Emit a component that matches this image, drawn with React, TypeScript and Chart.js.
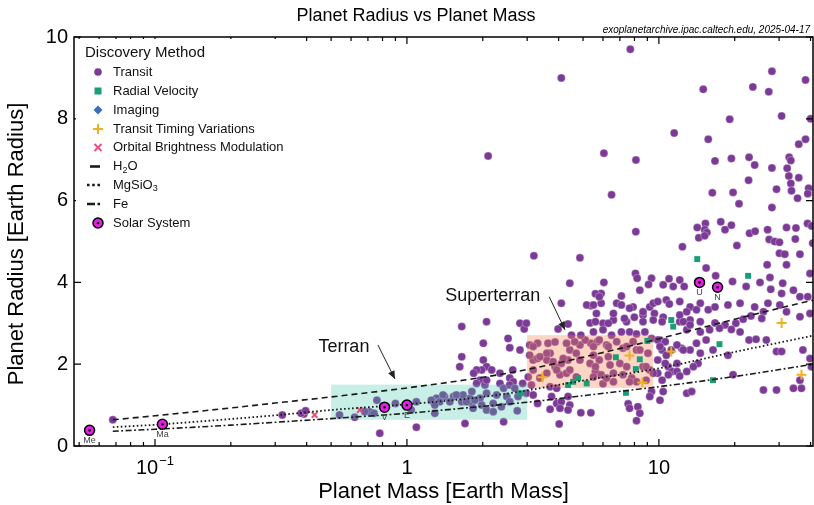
import React, { useEffect, useRef } from "react";
import { Chart, registerables } from "chart.js";

Chart.register(...registerables);

const FONT = '"Liberation Sans", Arial, Helvetica, sans-serif';

// ---------- axis settings ----------
const xMin = 0.0477;
const xMax = 40.9;
const yMin = 0;
const yMax = 10;
const yTickValues = [0, 2, 4, 6, 8, 10];
const xMajorTicks = [0.1, 1, 10];
const xTickLabels: [string, string][] = [["10", "\u22121"], ["1", ""], ["10", ""]];
const xMinorTicks = [0.05, 0.06, 0.07, 0.08, 0.09, 0.2, 0.3, 0.4, 0.5, 0.6, 0.7, 0.8, 0.9, 2, 3, 4, 5, 6, 7, 8, 9, 20, 30, 40];

// ---------- data: [mass (Earth masses), radius (Earth radii)] ----------
const transitPoints: [number, number][] = [
  [7.7, 9.7], [4.1, 9.0], [28.1, 9.16], [38.2, 8.95], [23.6, 8.78], [27.3, 8.66], [15.0, 8.72], [19.1, 7.99],
  [30.7, 8.07], [40.0, 8.0], [11.5, 7.65], [15.7, 7.5], [38.2, 7.5], [35.9, 7.38], [6.05, 7.16], [2.1, 7.09],
  [6.49, 6.14], [8.11, 6.99], [16.7, 6.97], [19.4, 7.03], [22.8, 7.06], [24.0, 6.87], [28.1, 6.8], [32.3, 6.79],
  [32.9, 7.06], [33.4, 6.98], [32.8, 6.6], [35.9, 6.56], [33.4, 6.42], [22.7, 6.5], [29.3, 6.28], [33.6, 6.24],
  [39.3, 6.3], [39.0, 6.17], [35.5, 6.06], [16.3, 6.19], [19.7, 6.2], [20.8, 5.92], [28.1, 5.83], [8.1, 5.24],
  [15.3, 5.44], [17.6, 5.48], [15.2, 5.29], [15.5, 5.22], [14.2, 5.34], [14.4, 5.09], [15.2, 5.14], [18.3, 5.29],
  [19.4, 5.4], [22.9, 5.2], [24.1, 5.25], [27.0, 5.29], [27.4, 5.05], [28.8, 5.0], [30.1, 4.98], [32.1, 5.34],
  [35.0, 5.33], [34.8, 5.06], [38.9, 5.44], [40.4, 5.38], [12.4, 4.87], [20.4, 4.9], [40.8, 4.96], [3.19, 4.65],
  [4.86, 4.6],
  [30.1, 4.71], [31.6, 4.69], [36.3, 4.69], [26.9, 4.43], [32.1, 4.43], [15.4, 4.35], [16.8, 4.16], [8.07, 4.22],
  [8.2, 4.1], [9.35, 4.1], [10.97, 4.09], [12.1, 4.06], [39.8, 4.22], [6.05, 4.0], [7.1, 3.67], [8.4, 3.81],
  [9.1, 3.95], [10.4, 3.94], [11.4, 3.9], [12.6, 3.9], [19.6, 4.02], [22.2, 3.9], [25.2, 4.0], [27.6, 4.12],
  [31.0, 3.98], [27.8, 3.83], [30.7, 3.73], [34.2, 3.81], [36.3, 3.65], [39.0, 3.65], [5.9, 3.73], [6.8, 3.49],
  [7.1, 3.45], [7.9, 3.4], [9.2, 3.4], [9.5, 3.49], [9.9, 3.53], [10.7, 3.57], [11.0, 3.47], [12.1, 3.53],
  [13.3, 3.4], [12.9, 3.28], [14.6, 3.49], [15.7, 3.33], [16.7, 3.4], [18.8, 3.45], [21.0, 3.49], [24.0, 3.4],
  [26.0, 3.28], [27.1, 3.49], [30.2, 3.45], [32.1, 3.28], [36.3, 3.16], [39.8, 3.24], [25.6, 3.12], [23.2, 3.18],
  [21.6, 3.1], [20.2, 3.0], [18.3, 2.96], [16.7, 3.01], [14.6, 3.04], [13.3, 3.08], [12.1, 3.04], [10.4, 3.15],
  [9.6, 3.24], [8.65, 3.2], [7.99, 3.15], [7.44, 3.04], [6.6, 3.08], [6.0, 3.0], [12.9, 2.84], [14.6, 2.79],
  [15.9, 2.84], [17.4, 2.88], [19.4, 2.85], [21.0, 2.79], [22.8, 2.59], [24.3, 2.61], [26.7, 2.59], [29.3, 2.31],
  [30.7, 2.31], [37.3, 2.35], [39.8, 2.14], [15.4, 2.59], [14.1, 2.51], [13.3, 2.35], [12.3, 2.39], [14.6, 2.27],
  [16.4, 2.35], [18.8, 2.22], [14.3, 2.02], [13.7, 1.94], [12.9, 1.82], [11.2, 2.35], [10.1, 2.59], [10.3, 2.35],
  [10.7, 2.22], [11.8, 2.02], [10.9, 1.94], [11.3, 1.82], [10.9, 1.74], [9.9, 1.78], [10.3, 1.61], [11.8, 1.82],
  [12.1, 1.71], [19.7, 1.74], [26.0, 1.37], [29.3, 1.37], [36.3, 1.61], [36.8, 1.41], [40.3, 1.94], [9.35, 1.33],
  [9.2, 1.21], [12.9, 1.29], [13.5, 1.33], [34.2, 1.41],
  [5.6, 3.72], [5.37, 3.43], [5.9, 3.49], [5.65, 3.24], [7.65, 3.37], [8.65, 3.28], [7.3, 3.12], [8.65, 3.04],
  [9.5, 3.08], [10.3, 3.04], [12.1, 3.2], [12.5, 3.04], [13.3, 2.96], [14.1, 3.33], [5.5, 2.79], [6.0, 2.84],
  [6.49, 2.71], [7.1, 2.79], [7.65, 2.79], [8.15, 2.74], [8.8, 2.79], [9.35, 2.63], [9.9, 2.59], [10.6, 2.55],
  [10.1, 2.43], [11.8, 2.47], [12.5, 2.35], [5.37, 2.51], [5.7, 2.55], [6.2, 2.47], [7.2, 2.39], [8.15, 2.35],
  [9.05, 2.27], [9.9, 2.1], [10.6, 2.02], [5.5, 2.22], [5.8, 2.1], [6.3, 2.18], [6.4, 1.98], [7.0, 2.02],
  [7.45, 1.94], [8.65, 1.94], [9.2, 1.86], [5.6, 1.82], [5.9, 1.74], [6.6, 1.78], [7.2, 1.74], [7.8, 1.66],
  [8.15, 1.57], [6.0, 1.52], [6.6, 1.57], [10.1, 1.12], [7.55, 1.03], [7.65, 0.92], [8.25, 0.96], [8.4, 0.8],
  [8.15, 0.62], [5.37, 0.81], [10.4, 1.33],
  [4.1, 3.49], [5.17, 3.45], [5.5, 3.45], [2.07, 3.04], [2.81, 3.0], [2.92, 2.86], [3.98, 2.86], [4.36, 2.98],
  [5.33, 3.01], [2.52, 2.63], [2.01, 2.51], [2.01, 2.1], [2.07, 1.94], [1.98, 1.86], [2.34, 1.78], [2.56, 1.66],
  [2.64, 1.57], [2.88, 1.53], [3.12, 1.49], [3.03, 1.69], [3.37, 1.66], [3.17, 2.1], [3.3, 2.14], [3.07, 2.47],
  [3.3, 2.51], [3.63, 2.51], [3.87, 2.54], [3.7, 2.27], [3.59, 2.1], [3.87, 1.94], [4.05, 1.74], [4.3, 1.78],
  [4.1, 2.02], [4.36, 2.1], [4.43, 2.35], [4.7, 2.27], [4.86, 2.47], [5.1, 2.59], [4.63, 2.55], [4.5, 2.71],
  [4.9, 2.71], [5.33, 2.02], [5.6, 1.94], [2.98, 1.29], [3.17, 1.25], [3.3, 1.04], [3.75, 1.21], [3.93, 1.04],
  [4.1, 1.08], [4.36, 1.21], [4.43, 1.0], [4.05, 0.92], [3.7, 0.9], [4.36, 0.88], [4.9, 0.81], [4.02, 0.54],
  [3.7, 1.45], [3.93, 1.41], [2.63, 1.86],
  [4.3, 2.51], [5.5, 2.43], [5.8, 2.59], [6.3, 2.43], [6.8, 2.55], [7.45, 2.43], [7.9, 2.55], [3.37, 2.18],
  [3.8, 2.06], [4.17, 2.14], [4.86, 2.1], [8.9, 1.94], [3.17, 1.86], [3.59, 1.78], [3.93, 1.86], [5.5, 1.69],
  [6.2, 1.66], [7.65, 1.57], [8.9, 1.61], [3.07, 2.22], [3.17, 2.43], [3.59, 2.27], [4.43, 1.86], [4.7, 1.69],
  [9.5, 1.78], [8.4, 2.35], [2.98, 3.0], [4.43, 3.98], [5.8, 3.65], [6.6, 3.24], [5.6, 3.04], [6.3, 3.0],
  [1.65, 2.92], [1.62, 1.94], [1.89, 1.86], [2.17, 1.86], [1.95, 1.61], [2.04, 1.49], [2.34, 1.53], [2.42, 1.41],
  [2.56, 1.49], [2.68, 1.41], [2.07, 1.29], [2.27, 1.25], [2.49, 1.21], [2.76, 1.21], [1.95, 1.17], [1.78, 1.17],
  [1.65, 1.21], [1.53, 1.21], [1.41, 1.21], [1.31, 1.17], [1.35, 1.08], [1.27, 1.08], [1.48, 1.08], [1.65, 1.08],
  [1.81, 1.04], [1.98, 1.0], [2.2, 1.04], [2.37, 0.96], [2.56, 1.08], [2.07, 0.88], [2.2, 0.84], [2.74, 0.86],
  [1.7, 0.55], [0.78, 0.31], [2.42, 0.59], [2.56, 2.4], [2.81, 2.35], [1.65, 2.18],
  [1.84, 1.78], [2.07, 1.61], [1.89, 1.53], [1.81, 1.33], [1.67, 1.25], [1.57, 1.25], [1.39, 1.25], [1.25, 1.12],
  [1.29, 1.0], [1.72, 1.08], [1.86, 1.12], [1.83, 0.92], [1.29, 0.8], [1.09, 0.46], [0.9, 1.04], [0.76, 1.12],
  [0.71, 0.84], [0.68, 0.84], [0.74, 0.8], [0.62, 0.7], [0.54, 0.76], [1.09, 1.08], [1.04, 0.88], [0.39, 0.78],
  [0.32, 0.76], [0.068, 0.64], [0.38, 0.8], [0.396, 0.86],
];

const radialVelocityPoints: [number, number][] = [
  [14.2, 4.57], [22.6, 4.16], [11.2, 3.08], [11.4, 2.92], [9.0, 2.57], [6.75, 2.17], [8.4, 2.12], [8.1, 1.88],
  [7.4, 1.3], [17.4, 2.49], [16.4, 1.61], [2.81, 1.29], [4.36, 1.49], [4.57, 1.57], [4.78, 1.66], [5.17, 1.53],
];

const ttvPoints: [number, number][] = [
  [3.45, 1.68], [7.65, 2.21], [8.6, 1.55], [11.2, 2.31], [30.7, 3.01], [36.8, 1.74],
];

const obmPoints: [number, number][] = [[0.43, 0.76], [0.65, 0.88]];

const solarNames = ["Me", "Ma", "V", "E", "U", "N"];
const solarMass = [0.055, 0.107, 0.815, 1.0, 14.5, 17.1];
const solarRadius = [0.383, 0.532, 0.949, 1.0, 4.0, 3.88];

// composition curves
const curveMass = [0.068, 0.1, 0.2, 0.3, 0.5, 1, 2, 3, 5, 10, 20, 41];
const h2oRadius = [0.64, 0.74, 0.93, 1.05, 1.2, 1.42, 1.68, 1.87, 2.17, 2.62, 3.1, 3.57];
const mgsio3Radius = [0.46, 0.52, 0.66, 0.75, 0.88, 1.02, 1.2, 1.36, 1.6, 1.9, 2.3, 2.7];
const feRadius = [0.36, 0.41, 0.51, 0.58, 0.67, 0.8, 0.97, 1.07, 1.23, 1.45, 1.7, 2.0];

// regions [massMin, massMax, radiusMin, radiusMax]
const terranBox = [0.5, 3.0, 0.64, 1.5];
const superterranBox = [3.0, 9.5, 1.42, 2.71];

// annotations: text centre, arrow tail, arrow head (mass, radius)
const terranNote = { text: "Terran", at: [0.562, 2.42], tail: [0.767, 2.47], head: [0.896, 1.64] };
const superNote = { text: "Superterran", at: [2.19, 3.67], tail: [3.67, 3.65], head: [4.24, 2.84] };

const PURPLE = "#7b3a96";
const GREEN = "#1b9e77";
const BLUE = "#3a6fb8";
const ORANGE = "#f0b020";
const PINK = "#e8507e";
const MAGENTA = "#e61ee6";
const LINE = "#1a1a1a";

const toXY = (pts: [number, number][]) => pts.map(([m, r]) => ({ x: m, y: r }));
const zipXY = (xs: number[], ys: number[]) => xs.map((v, i) => ({ x: v, y: ys[i] }));

function drawMarker(ctx: CanvasRenderingContext2D, kind: string, x: number, y: number) {
  ctx.save();
  ctx.setLineDash([]);
  if (kind === "circle") {
    ctx.fillStyle = PURPLE;
    ctx.beginPath();
    ctx.arc(x, y, 3.8, 0, Math.PI * 2);
    ctx.fill();
  } else if (kind === "square") {
    ctx.fillStyle = GREEN;
    ctx.fillRect(x - 3.5, y - 3.5, 7, 7);
  } else if (kind === "diamond") {
    ctx.fillStyle = BLUE;
    ctx.beginPath();
    ctx.moveTo(x, y - 4.5);
    ctx.lineTo(x + 4.5, y);
    ctx.lineTo(x, y + 4.5);
    ctx.lineTo(x - 4.5, y);
    ctx.closePath();
    ctx.fill();
  } else if (kind === "plus") {
    ctx.strokeStyle = ORANGE;
    ctx.lineWidth = 2;
    ctx.beginPath();
    ctx.moveTo(x - 5, y);
    ctx.lineTo(x + 5, y);
    ctx.moveTo(x, y - 5);
    ctx.lineTo(x, y + 5);
    ctx.stroke();
  } else if (kind === "x") {
    ctx.strokeStyle = PINK;
    ctx.lineWidth = 2;
    ctx.beginPath();
    ctx.moveTo(x - 3.5, y - 3.5);
    ctx.lineTo(x + 3.5, y + 3.5);
    ctx.moveTo(x + 3.5, y - 3.5);
    ctx.lineTo(x - 3.5, y + 3.5);
    ctx.stroke();
  } else if (kind === "solar") {
    ctx.fillStyle = MAGENTA;
    ctx.strokeStyle = "#000";
    ctx.lineWidth = 1.5;
    ctx.beginPath();
    ctx.arc(x, y, 5, 0, Math.PI * 2);
    ctx.fill();
    ctx.stroke();
    ctx.fillStyle = "#000";
    ctx.beginPath();
    ctx.arc(x, y, 1.3, 0, Math.PI * 2);
    ctx.fill();
  }
  ctx.restore();
}

function drawArrow(ctx: CanvasRenderingContext2D, x0: number, y0: number, x1: number, y1: number) {
  ctx.save();
  ctx.strokeStyle = "#222";
  ctx.fillStyle = "#222";
  ctx.lineWidth = 1;
  ctx.beginPath();
  ctx.moveTo(x0, y0);
  ctx.lineTo(x1, y1);
  ctx.stroke();
  const a = Math.atan2(y1 - y0, x1 - x0);
  const L = 8, W = 3.5;
  ctx.beginPath();
  ctx.moveTo(x1, y1);
  ctx.lineTo(x1 - L * Math.cos(a) + W * Math.sin(a), y1 - L * Math.sin(a) - W * Math.cos(a));
  ctx.lineTo(x1 - L * Math.cos(a) - W * Math.sin(a), y1 - L * Math.sin(a) + W * Math.cos(a));
  ctx.closePath();
  ctx.fill();
  ctx.restore();
}

const decorPlugin = {
  id: "decor",
  afterDatasetDraw(chart: any, args: any) {
    if (args.index !== 0) return;
    const { ctx, scales } = chart;
    const x = scales.x, y = scales.y;
    const boxes = [
      { b: terranBox, c: "rgba(64,200,170,0.29)" },
      { b: superterranBox, c: "rgba(245,130,80,0.33)" },
    ];
    ctx.save();
    boxes.forEach(({ b, c }) => {
      const x0 = x.getPixelForValue(b[0]);
      const x1 = x.getPixelForValue(b[1]);
      const y0 = y.getPixelForValue(b[3]);
      const y1 = y.getPixelForValue(b[2]);
      ctx.fillStyle = c;
      ctx.fillRect(x0, y0, x1 - x0, y1 - y0);
    });
    ctx.restore();
  },
  afterDraw(chart: any) {
    const { ctx, chartArea, scales } = chart;
    const xs = scales.x, ys = scales.y;
    const { left, right, top, bottom } = chartArea;
    ctx.save();

    // solar system labels
    ctx.fillStyle = "#444";
    ctx.font = `9px ${FONT}`;
    ctx.textAlign = "center";
    ctx.textBaseline = "middle";
    solarNames.forEach((n, i) => {
      ctx.fillText(n, xs.getPixelForValue(solarMass[i]), ys.getPixelForValue(solarRadius[i]) + 10);
    });

    // annotations
    ctx.fillStyle = "#111";
    ctx.font = `18px ${FONT}`;
    [terranNote, superNote].forEach((a) => {
      ctx.fillText(a.text, xs.getPixelForValue(a.at[0]), ys.getPixelForValue(a.at[1]));
      drawArrow(ctx, xs.getPixelForValue(a.tail[0]), ys.getPixelForValue(a.tail[1]),
        xs.getPixelForValue(a.head[0]), ys.getPixelForValue(a.head[1]));
    });

    // frame
    ctx.strokeStyle = "#000";
    ctx.lineWidth = 1.5;
    ctx.setLineDash([]);
    ctx.strokeRect(left, top, right - left, bottom - top);

    // ticks (inward)
    ctx.lineWidth = 1.2;
    ctx.beginPath();
    xMajorTicks.forEach((v) => {
      const px = xs.getPixelForValue(v);
      ctx.moveTo(px, bottom); ctx.lineTo(px, bottom - 7);
      ctx.moveTo(px, top); ctx.lineTo(px, top + 7);
    });
    xMinorTicks.forEach((v) => {
      const px = xs.getPixelForValue(v);
      ctx.moveTo(px, bottom); ctx.lineTo(px, bottom - 4);
      ctx.moveTo(px, top); ctx.lineTo(px, top + 4);
    });
    yTickValues.forEach((v) => {
      const py = ys.getPixelForValue(v);
      ctx.moveTo(left, py); ctx.lineTo(left + 7, py);
      ctx.moveTo(right, py); ctx.lineTo(right - 7, py);
    });
    ctx.stroke();

    // x tick labels with superscripts
    ctx.fillStyle = "#000";
    ctx.textBaseline = "alphabetic";
    ctx.textAlign = "left";
    xMajorTicks.forEach((v, i) => {
      const [base, sup] = xTickLabels[i];
      ctx.font = `20px ${FONT}`;
      const wb = ctx.measureText(base).width;
      ctx.font = `13px ${FONT}`;
      const ws = sup ? ctx.measureText(sup).width + 1 : 0;
      const px = xs.getPixelForValue(v);
      const start = px - (wb + ws) / 2;
      ctx.font = `20px ${FONT}`;
      ctx.fillText(base, start, 474);
      if (sup) {
        ctx.font = `13px ${FONT}`;
        ctx.fillText(sup, start + wb + 1, 465);
      }
    });

    // axis titles
    ctx.font = `22px ${FONT}`;
    ctx.textAlign = "center";
    ctx.textBaseline = "middle";
    ctx.fillText("Planet Mass [Earth Mass]", (left + right) / 2, 492);
    ctx.save();
    ctx.translate(17, 244);
    ctx.rotate(-Math.PI / 2);
    ctx.fillText("Planet Radius [Earth Radius]", 0, 0);
    ctx.restore();

    // title and source note
    ctx.font = `18px ${FONT}`;
    ctx.fillText("Planet Radius vs Planet Mass", 416, 16);
    ctx.font = `italic 10px ${FONT}`;
    ctx.textAlign = "right";
    ctx.fillText("exoplanetarchive.ipac.caltech.edu, 2025-04-17", 810, 30);

    // legend
    ctx.fillStyle = "#fff";
    ctx.fillRect(left + 2, top + 2, 214, 197);
    ctx.fillStyle = "#111";
    ctx.textAlign = "left";
    ctx.font = `15px ${FONT}`;
    ctx.fillText("Discovery Method", 85, 53);
    const mx = 98, tx = 113;
    const items: [string, number][] = [
      ["circle", 72], ["square", 91], ["diamond", 110], ["plus", 129], ["x", 147.5],
    ];
    const names = ["Transit", "Radial Velocity", "Imaging", "Transit Timing Variations", "Orbital Brightness Modulation"];
    items.forEach(([k, yy], i) => {
      drawMarker(ctx, k, mx, yy);
      ctx.fillStyle = "#111";
      ctx.font = `13px ${FONT}`;
      ctx.fillText(names[i], tx, yy);
    });
    // line samples
    ctx.strokeStyle = LINE;
    ctx.lineWidth = 2.6;
    ctx.lineCap = "butt";
    ctx.setLineDash([]);
    ctx.beginPath(); ctx.moveTo(90, 166.5); ctx.lineTo(100, 166.5); ctx.stroke();
    ctx.setLineDash([2.6, 2.6]);
    ctx.beginPath(); ctx.moveTo(87, 185); ctx.lineTo(102, 185); ctx.stroke();
    ctx.setLineDash([8, 2.5, 2.6, 2.5]);
    ctx.beginPath(); ctx.moveTo(87, 204); ctx.lineTo(101, 204); ctx.stroke();
    ctx.setLineDash([]);
    // texts with subscripts
    const sub = (parts: [string, boolean][], x0: number, yy: number) => {
      let cx = x0;
      parts.forEach(([t, isSub]) => {
        ctx.font = isSub ? `9px ${FONT}` : `13px ${FONT}`;
        ctx.fillText(t, cx, isSub ? yy + 4 : yy);
        cx += ctx.measureText(t).width;
      });
    };
    ctx.fillStyle = "#111";
    sub([["H", false], ["2", true], ["O", false]], tx, 166.5);
    sub([["MgSiO", false], ["3", true]], tx, 185);
    sub([["Fe", false]], tx, 204);
    drawMarker(ctx, "solar", mx, 223);
    ctx.fillStyle = "#111";
    ctx.font = `13px ${FONT}`;
    ctx.fillText("Solar System", tx, 223);

    ctx.restore();
  },
};

export default function App() {
  const ref = useRef<HTMLCanvasElement | null>(null);
  useEffect(() => {
    if (!ref.current) return;
    const chart = new Chart(ref.current, {
      type: "scatter",
      data: {
        datasets: [
          {
            label: "Transit",
            data: toXY(transitPoints),
            backgroundColor: PURPLE,
            borderColor: "rgba(255,255,255,0.5)",
            borderWidth: 0.6,
            pointRadius: 4,
            order: 10,
          },
          {
            label: "Radial Velocity",
            data: toXY(radialVelocityPoints),
            pointStyle: "rect",
            backgroundColor: GREEN,
            borderColor: GREEN,
            borderWidth: 0,
            pointRadius: 4.2,
            order: 5,
          },
          {
            label: "Transit Timing Variations",
            data: toXY(ttvPoints),
            pointStyle: "cross",
            borderColor: ORANGE,
            borderWidth: 2,
            pointRadius: 5,
            order: 5,
          },
          {
            label: "Orbital Brightness Modulation",
            data: toXY(obmPoints),
            pointStyle: "crossRot",
            borderColor: PINK,
            borderWidth: 2,
            pointRadius: 4,
            order: 5,
          },
          {
            label: "H2O",
            data: zipXY(curveMass, h2oRadius),
            showLine: true,
            pointRadius: 0,
            borderColor: LINE,
            borderWidth: 1.6,
            borderDash: [6, 4],
            cubicInterpolationMode: "monotone",
            order: 4,
          },
          {
            label: "MgSiO3",
            data: zipXY(curveMass, mgsio3Radius),
            showLine: true,
            pointRadius: 0,
            borderColor: LINE,
            borderWidth: 1.8,
            borderDash: [1.6, 2.4],
            cubicInterpolationMode: "monotone",
            order: 4,
          },
          {
            label: "Fe",
            data: zipXY(curveMass, feRadius),
            showLine: true,
            pointRadius: 0,
            borderColor: LINE,
            borderWidth: 1.6,
            borderDash: [6, 2.5, 1.8, 2.5],
            cubicInterpolationMode: "monotone",
            order: 4,
          },
          {
            label: "Solar System",
            data: zipXY(solarMass, solarRadius),
            backgroundColor: MAGENTA,
            borderColor: "#000",
            borderWidth: 1.5,
            pointRadius: 5,
            order: 2,
          },
          {
            label: "Solar centre",
            data: zipXY(solarMass, solarRadius),
            backgroundColor: "#000",
            borderWidth: 0,
            pointRadius: 1.3,
            order: 1,
          },
        ] as any,
      },
      options: {
        animation: false,
        responsive: false,
        devicePixelRatio: 1,
        events: [],
        layout: { autoPadding: false, padding: { left: 0, right: 1, top: 37, bottom: 0 } },
        plugins: { legend: { display: false }, tooltip: { enabled: false }, title: { display: false } },
        scales: {
          x: {
            type: "logarithmic",
            min: xMin,
            max: xMax,
            grid: { display: false, drawTicks: false },
            border: { display: false },
            ticks: { display: false },
            afterFit: (s: any) => { s.height = 59; },
          },
          y: {
            type: "linear",
            min: yMin,
            max: yMax,
            grid: { display: false, drawTicks: false },
            border: { display: false },
            ticks: {
              stepSize: 2,
              padding: 6,
              color: "#000",
              font: { family: FONT, size: 20 },
            },
            afterFit: (s: any) => { s.width = 74; },
          },
        },
      } as any,
      plugins: [decorPlugin],
    });
    return () => chart.destroy();
  }, []);
  return (
    <div style={{ position: "absolute", left: 0, top: 0, width: 814, height: 505, background: "#fff" }}>
      <canvas ref={ref} width={814} height={505} />
    </div>
  );
}
